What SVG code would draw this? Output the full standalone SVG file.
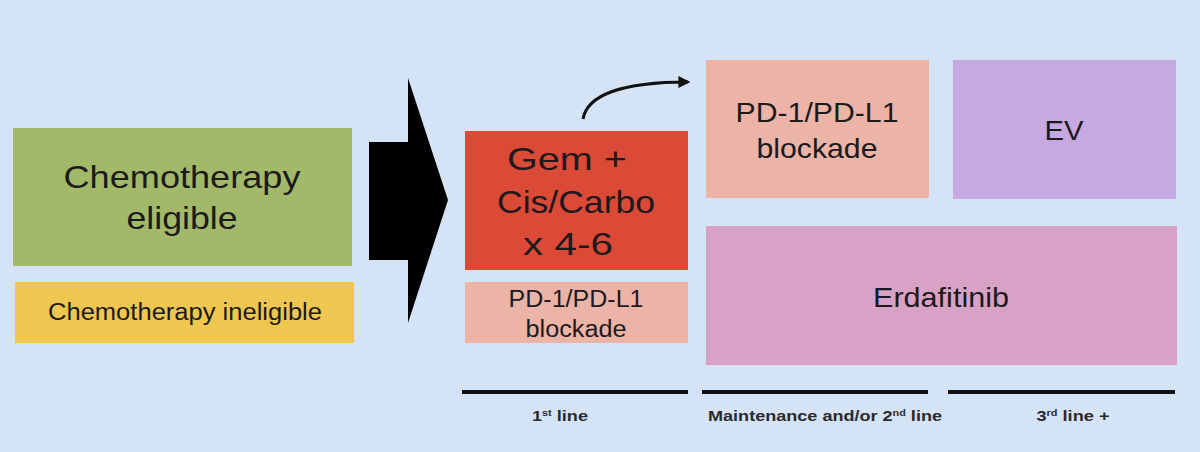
<svg xmlns="http://www.w3.org/2000/svg" width="1200" height="452" viewBox="0 0 1200 452">
<style>
.t{font-family:"Liberation Sans",Arial,sans-serif;fill:#1c1a1c;text-anchor:middle}
.lbl{font-family:"Liberation Sans",Arial,sans-serif;font-weight:bold;font-size:15px;fill:#2a2a2e;text-anchor:middle}
.bar{stroke:#111;stroke-width:4}
</style>
<defs>
<marker id="ah" viewBox="0 0 10 10" refX="8" refY="5" markerWidth="4" markerHeight="4" orient="auto" markerUnits="strokeWidth">
<path d="M0,0 L10,5 L0,10 z" fill="#111"/>
</marker>
</defs>
<rect width="1200" height="452" fill="#d5e3f7"/>
<g id="eligible">
<rect x="13" y="128" width="339" height="138" fill="#a3b96a"/>
<text class="t" x="182" y="188" font-size="32" textLength="237" lengthAdjust="spacingAndGlyphs">Chemotherapy</text>
<text class="t" x="182" y="229" font-size="32" textLength="111" lengthAdjust="spacingAndGlyphs">eligible</text>
</g>
<g id="ineligible">
<rect x="15" y="282" width="339" height="61" fill="#efc750"/>
<text class="t" x="185" y="320" font-size="23" textLength="274" lengthAdjust="spacingAndGlyphs">Chemotherapy ineligible</text>
</g>
<g id="bigarrow">
<polygon points="369,142 408,142 408,78 448,200 408,323 408,260 369,260" fill="#000"/>
</g>
<g id="gem">
<rect x="465" y="131" width="223" height="139" fill="#db4a37"/>
<text class="t" x="567" y="170" font-size="32" textLength="120" lengthAdjust="spacingAndGlyphs">Gem +</text>
<text class="t" x="576" y="213" font-size="32" textLength="158" lengthAdjust="spacingAndGlyphs">Cis/Carbo</text>
<text class="t" x="568" y="255" font-size="32" textLength="90" lengthAdjust="spacingAndGlyphs">x 4-6</text>
</g>
<g id="pd1-first">
<rect x="465" y="282" width="223" height="61" fill="#ecb3a7"/>
<text class="t" x="576" y="307" font-size="23" textLength="135" lengthAdjust="spacingAndGlyphs">PD-1/PD-L1</text>
<text class="t" x="576" y="337" font-size="23" textLength="101" lengthAdjust="spacingAndGlyphs">blockade</text>
</g>
<g id="pd1-maint">
<rect x="706" y="60" width="223" height="138" fill="#ecb3a7"/>
<text class="t" x="817" y="122" font-size="28" textLength="163" lengthAdjust="spacingAndGlyphs">PD-1/PD-L1</text>
<text class="t" x="817" y="158" font-size="28" textLength="121" lengthAdjust="spacingAndGlyphs">blockade</text>
</g>
<g id="ev">
<rect x="953" y="60" width="223" height="139" fill="#c7a8e0"/>
<text class="t" x="1064" y="140" font-size="28" textLength="39" lengthAdjust="spacingAndGlyphs">EV</text>
</g>
<g id="erdafitinib">
<rect x="706" y="226" width="471" height="139" fill="#d8a2c7"/>
<text class="t" x="941" y="307" font-size="28" textLength="136" lengthAdjust="spacingAndGlyphs">Erdafitinib</text>
</g>
<g id="connectors">
<path d="M583,119 C587,96 620,82 688,82" fill="none" stroke="#111" stroke-width="3" marker-end="url(#ah)"/>
</g>
<g id="timeline">
<line class="bar" x1="462" y1="392" x2="688" y2="392"/>
<line class="bar" x1="702" y1="392" x2="928" y2="392"/>
<line class="bar" x1="948" y1="392" x2="1175" y2="392"/>
<text class="lbl" x="560" y="421" textLength="56" lengthAdjust="spacingAndGlyphs">1<tspan font-size="9" dy="-5">st</tspan><tspan dy="5"> line</tspan></text>
<text class="lbl" x="825" y="421" textLength="234" lengthAdjust="spacingAndGlyphs">Maintenance and/or 2<tspan font-size="9" dy="-5">nd</tspan><tspan dy="5"> line</tspan></text>
<text class="lbl" x="1073" y="421" textLength="73" lengthAdjust="spacingAndGlyphs">3<tspan font-size="9" dy="-5">rd</tspan><tspan dy="5"> line +</tspan></text>
</g>
</svg>
